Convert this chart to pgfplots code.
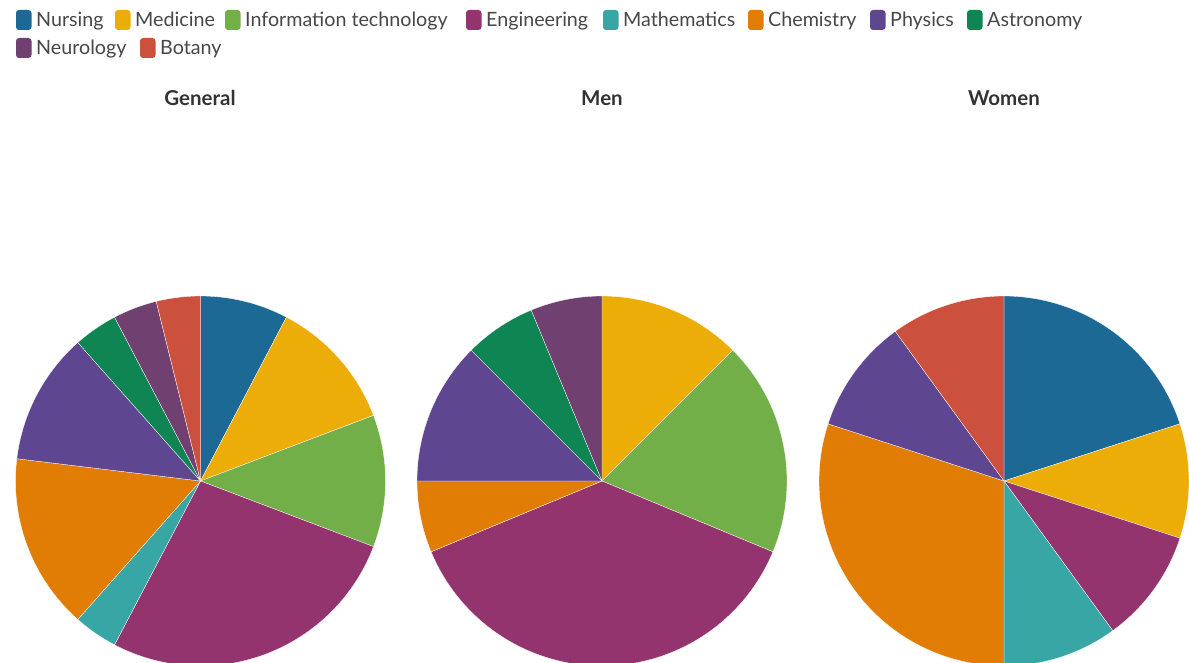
\documentclass[border=0pt]{standalone}
\usepackage{pgfplots}
\pgfplotsset{compat=1.18}
\usepackage{pgfplotstable}
\usepackage{fontspec}
\setmainfont{Lato}

\definecolor{cNursing}{HTML}{1D6996}
\definecolor{cMedicine}{HTML}{EDAD08}
\definecolor{cIT}{HTML}{73AF48}
\definecolor{cEngineering}{HTML}{94346E}
\definecolor{cMathematics}{HTML}{38A6A5}
\definecolor{cChemistry}{HTML}{E17C05}
\definecolor{cPhysics}{HTML}{5F4690}
\definecolor{cAstronomy}{HTML}{0F8554}
\definecolor{cNeurology}{HTML}{6F4070}
\definecolor{cBotany}{HTML}{CC503E}
\definecolor{txt}{HTML}{474747}
\definecolor{ttl}{HTML}{333333}

% counts per field
\pgfplotstableread{
field value color
Nursing 2 cNursing
Medicine 3 cMedicine
IT 3 cIT
Engineering 7 cEngineering
Mathematics 1 cMathematics
Chemistry 4 cChemistry
Physics 3 cPhysics
Astronomy 1 cAstronomy
Neurology 1 cNeurology
Botany 1 cBotany
}\generaltab

\pgfplotstableread{
field value color
Nursing 0 cNursing
Medicine 2 cMedicine
IT 3 cIT
Engineering 6 cEngineering
Mathematics 0 cMathematics
Chemistry 1 cChemistry
Physics 2 cPhysics
Astronomy 1 cAstronomy
Neurology 1 cNeurology
Botany 0 cBotany
}\mentab

\pgfplotstableread{
field value color
Nursing 2 cNursing
Medicine 1 cMedicine
IT 0 cIT
Engineering 1 cEngineering
Mathematics 1 cMathematics
Chemistry 3 cChemistry
Physics 1 cPhysics
Astronomy 0 cAstronomy
Neurology 0 cNeurology
Botany 1 cBotany
}\womentab

\newcommand{\drawpie}[1]{%
  \pgfplotstablegetrowsof{#1}%
  \pgfmathtruncatemacro\nrows{\pgfplotsretval-1}%
  \gdef\pietotal{0}%
  \pgfplotsforeachungrouped \ii in {0,...,\nrows}{%
    \pgfplotstablegetelem{\ii}{value}\of#1%
    \pgfmathsetmacro\tmp{\pietotal+\pgfplotsretval}\xdef\pietotal{\tmp}}%
  \gdef\piecum{0}%
  \pgfplotsforeachungrouped \ii in {0,...,\nrows}{%
    \pgfplotstablegetelem{\ii}{value}\of#1\let\pv\pgfplotsretval
    \pgfplotstablegetelem{\ii}{color}\of#1\let\pc\pgfplotsretval
    \pgfmathsetmacro\aS{90-360*\piecum/\pietotal}%
    \pgfmathsetmacro\aE{90-360*(\piecum+\pv)/\pietotal}%
    \pgfmathsetmacro\tmp{\piecum+\pv}\xdef\piecum{\tmp}%
    \ifdim\pv pt>0pt
      \edef\doit{\noexpand\addplot[fill=\pc, draw=white, line width=0.3pt, data cs=polar, domain=\aE:\aS, samples=90] ({x},{1}) -- (axis cs:0,0) -- cycle;}\doit
    \fi
  }%
}

\pgfplotsset{pieaxis/.style={hide axis, scale only axis, width=370pt, height=370pt,
  xmin=-1, xmax=1, ymin=-1, ymax=1, anchor=center, clip=false}}

\newcommand{\legitem}[4]{% x, row top y, color, text
  \fill[#3, rounded corners=3pt] (#1pt,-#2pt) rectangle ({#1pt+15.5pt},{-#2pt-20pt});
  \node[anchor=base west, inner sep=0pt, text=txt, font=\fontsize{19.7}{23}\selectfont] at ({#1pt+20pt},{-#2pt-17pt}) {#4};
}

\begin{document}
\begin{tikzpicture}
\useasboundingbox (0,0) rectangle (1189pt,-663pt);

\legitem{16}{10}{cNursing}{Nursing}
\legitem{115}{10}{cMedicine}{Medicine}
\legitem{225}{10}{cIT}{Information technology}
\legitem{466}{10}{cEngineering}{Engineering}
\legitem{603}{10}{cMathematics}{Mathematics}
\legitem{748}{10}{cChemistry}{Chemistry}
\legitem{870}{10}{cPhysics}{Physics}
\legitem{967}{10}{cAstronomy}{Astronomy}
\legitem{16}{38}{cNeurology}{Neurology}
\legitem{140}{38}{cBotany}{Botany}

\node[font=\bfseries\fontsize{20.5}{24}\selectfont, text=ttl] at (200pt,-98pt) {General};
\node[font=\bfseries\fontsize{20.5}{24}\selectfont, text=ttl] at (602pt,-98pt) {Men};
\node[font=\bfseries\fontsize{20.5}{24}\selectfont, text=ttl] at (1004pt,-98pt) {Women};

\begin{axis}[pieaxis, at={(200.5pt,-481pt)}]
\drawpie{\generaltab}
\end{axis}
\begin{axis}[pieaxis, at={(602pt,-481pt)}]
\drawpie{\mentab}
\end{axis}
\begin{axis}[pieaxis, at={(1004pt,-481pt)}]
\drawpie{\womentab}
\end{axis}
\end{tikzpicture}
\end{document}
